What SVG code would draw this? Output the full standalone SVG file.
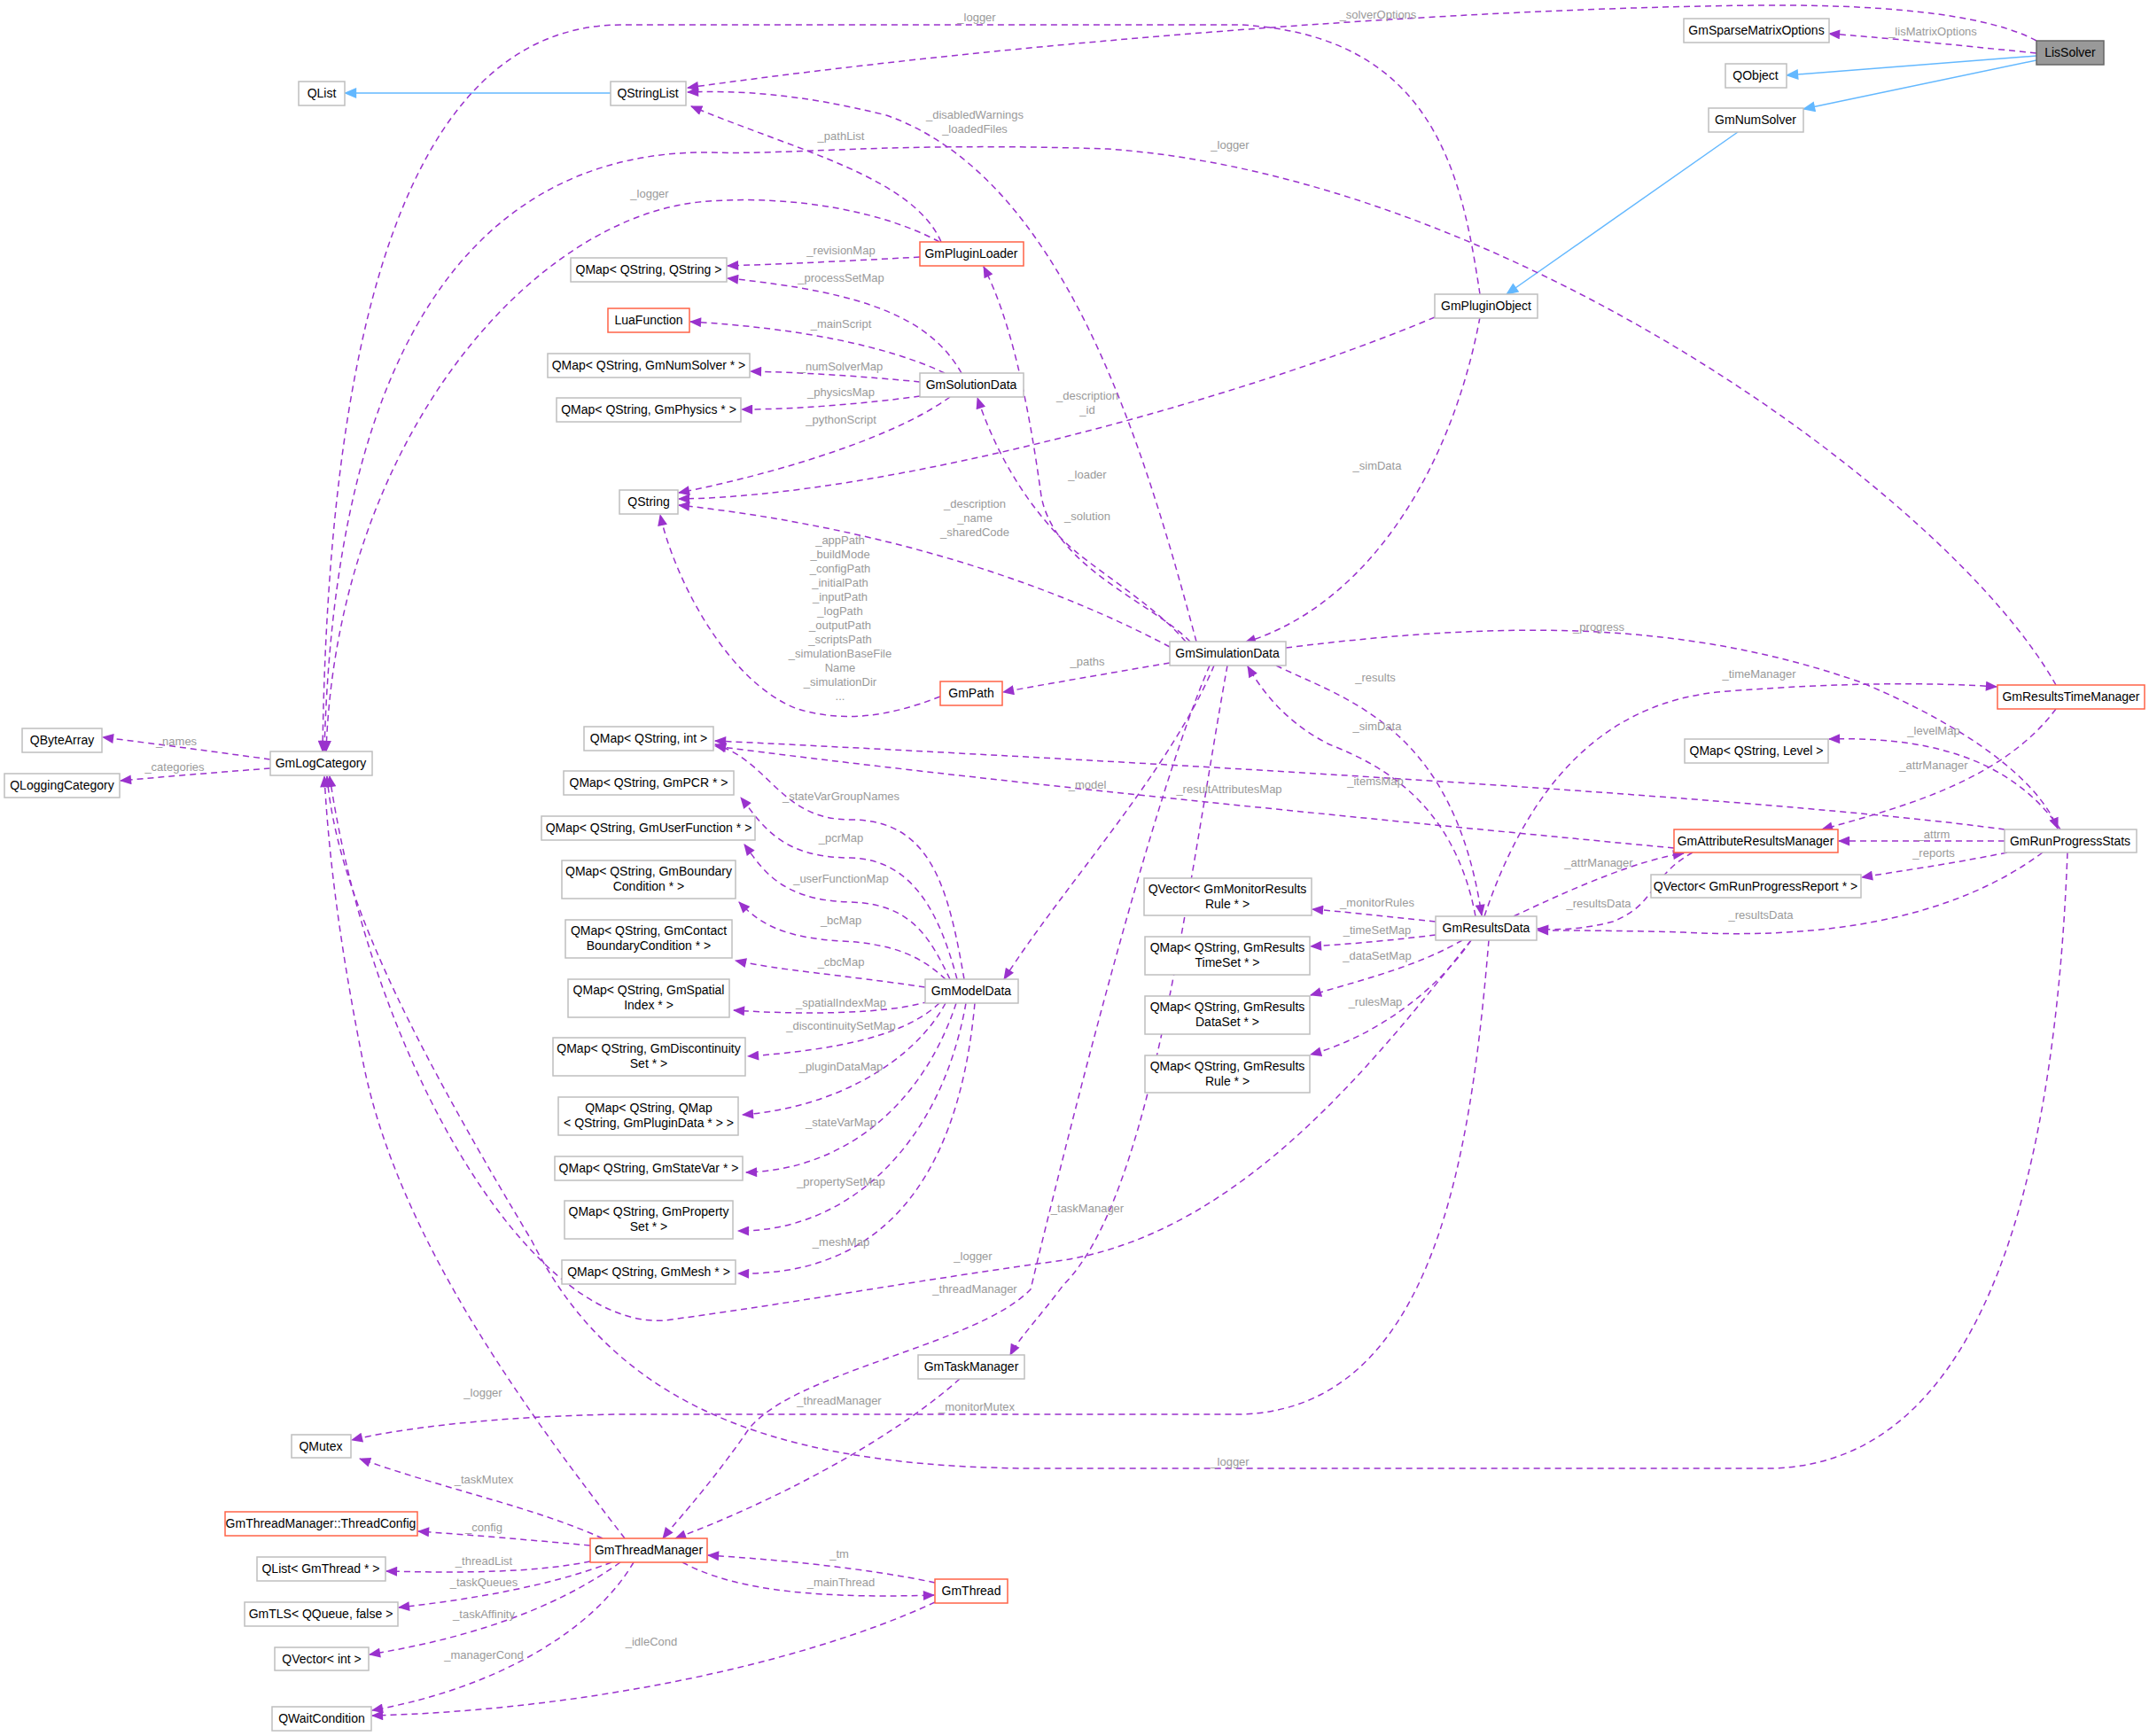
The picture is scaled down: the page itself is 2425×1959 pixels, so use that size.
<svg xmlns="http://www.w3.org/2000/svg" width="2425" height="1959" viewBox="0 0 2425 1959">
<style>
.n rect{fill:#fff;stroke:#bfbfbf;stroke-width:1.5}
.n.o rect{stroke:#ff6347}
.n.g rect{fill:#999;stroke:#666}
.n text{font-family:"Liberation Sans",Arial,sans-serif;font-size:14px;fill:#000;text-anchor:middle}
.e path{fill:none;stroke:#9a32cd;stroke-width:1.5;stroke-dasharray:7,5;marker-end:url(#a)}
.e path.i{stroke:#63b8ff;stroke-dasharray:none;marker-end:url(#b)}
.l text{font-family:"Liberation Sans",Arial,sans-serif;font-size:13px;fill:#9a9a9a;text-anchor:middle}
</style>
<defs>
<marker id="a" viewBox="0 0 12 10" refX="11" refY="5" markerWidth="14" markerHeight="11" markerUnits="userSpaceOnUse" orient="auto"><path d="M0,0 L12,5 L0,10 z" fill="#9a32cd"/></marker>
<marker id="b" viewBox="0 0 12 10" refX="11" refY="5" markerWidth="15" markerHeight="12" markerUnits="userSpaceOnUse" orient="auto"><path d="M0,0 L12,5 L0,10 z" fill="#63b8ff"/></marker>
</defs>
<rect width="2425" height="1959" fill="#fff"/>
<g class="e" id="connectors">
<path class="i" d="M2298,63 L2016,85"/>
<path class="i" d="M2298,68 L2035,123"/>
<path class="i" d="M1961,149 L1700,332"/>
<path class="i" d="M689,105 L389,105"/>
<path d="M2298,60 C2200,50 2120,42 2064,38"/>
<path d="M2298,46 C2250,20 2150,5 1990,6 C1700,8 1200,40 776,99"/>
<path d="M1670,332 C1650,200 1620,40 1400,28 L700,28 C450,30 370,400 364,848"/>
<path d="M2320,773 C2200,560 1700,200 1250,168 C1000,160 900,175 800,172 C600,170 380,300 366,848"/>
<path d="M1060,273 C1000,240 900,220 800,227 C600,240 380,500 368,848"/>
<path d="M1062,273 C1030,200 900,170 780,120"/>
<path d="M1350,724 C1290,500 1200,200 1000,130 C900,105 830,102 776,104"/>
<path d="M1343,724 C1300,680 1190,640 1175,560 C1160,450 1140,360 1110,301"/>
<path d="M1038,290 C950,295 880,298 821,300"/>
<path d="M1085,421 C1050,360 980,330 821,314"/>
<path d="M1066,421 C1000,390 900,370 779,363"/>
<path d="M1038,431 C980,425 900,420 847,419"/>
<path d="M1038,447 C980,455 900,462 837,462"/>
<path d="M1072,448 C1000,500 850,540 766,556"/>
<path d="M1619,358 C1400,450 1000,560 766,563"/>
<path d="M1320,730 C1150,640 950,590 766,570"/>
<path d="M1338,724 C1300,680 1230,640 1200,610 C1150,560 1120,500 1103,449"/>
<path d="M1061,786 C1000,810 950,815 900,800 C820,770 760,650 745,581"/>
<path d="M1320,748 C1250,760 1180,772 1132,781"/>
<path d="M1670,358 C1640,520 1550,680 1405,725"/>
<path d="M1370,751 C1320,870 1200,1000 1133,1105"/>
<path d="M1660,1061 C1550,1200 1400,1390 1200,1422 C1000,1450 900,1470 750,1490 C600,1500 420,1200 372,876"/>
<path d="M705,1736 C600,1600 450,1400 410,1200 C380,1050 370,950 366,876"/>
<path d="M2333,962 C2320,1300 2250,1650 2000,1657 L1200,1657 C900,1660 700,1600 600,1400 C450,1150 380,1000 369,876"/>
<path d="M1680,1061 C1660,1300 1620,1590 1400,1596 L700,1596 C560,1598 450,1612 397,1625"/>
<path d="M1385,751 C1340,1000 1300,1350 1200,1450 C1170,1490 1150,1510 1140,1529"/>
<path d="M1365,751 C1300,900 1200,1300 1163,1455 C1100,1520 880,1550 840,1620 C790,1690 760,1720 748,1736"/>
<path d="M1083,1556 C1000,1630 860,1700 762,1736"/>
<path d="M680,1736 C600,1700 500,1680 406,1646"/>
<path d="M666,1744 C600,1738 530,1732 472,1728"/>
<path d="M666,1762 C600,1775 520,1775 436,1773"/>
<path d="M690,1763 C620,1790 530,1805 450,1814"/>
<path d="M700,1763 C620,1820 520,1850 417,1867"/>
<path d="M715,1763 C670,1840 560,1905 420,1930"/>
<path d="M1055,1808 C900,1880 650,1930 420,1936"/>
<path d="M1055,1786 C980,1770 880,1760 799,1755"/>
<path d="M770,1763 C820,1790 900,1805 1054,1800"/>
<path d="M305,857 C240,848 180,840 116,832"/>
<path d="M305,867 C240,872 190,876 136,881"/>
<path d="M1088,1105 C1070,1000 1050,925 960,925 C880,925 870,860 807,840"/>
<path d="M1889,957 C1500,920 1100,880 807,842"/>
<path d="M2262,936 C2000,900 1300,860 807,836"/>
<path d="M1080,1105 C1060,1030 1030,970 960,968 C880,968 860,930 836,900"/>
<path d="M1072,1105 C1050,1060 1030,1020 960,1018 C880,1016 860,980 840,953"/>
<path d="M1067,1105 C1040,1080 1010,1065 950,1062 C880,1058 855,1040 834,1018"/>
<path d="M1044,1114 C950,1100 880,1095 830,1084"/>
<path d="M1048,1130 C1000,1145 900,1145 828,1140"/>
<path d="M1060,1132 C1020,1170 940,1185 844,1192"/>
<path d="M1067,1132 C1030,1200 940,1250 838,1258"/>
<path d="M1079,1132 C1040,1250 950,1320 842,1323"/>
<path d="M1090,1132 C1060,1300 950,1390 833,1389"/>
<path d="M1100,1132 C1080,1350 980,1440 833,1437"/>
<path d="M1440,751 C1520,790 1640,820 1672,1033"/>
<path d="M1665,1034 C1640,900 1550,860 1500,840 C1460,820 1430,790 1408,752"/>
<path d="M1451,731 C1700,700 1900,700 2100,770 C2220,820 2300,880 2322,935"/>
<path d="M1675,1034 C1720,900 1800,790 1950,780 C2080,770 2180,770 2253,775"/>
<path d="M2325,936 C2280,870 2200,830 2064,834"/>
<path d="M2320,800 C2260,880 2150,910 2056,936"/>
<path d="M2262,949 L2075,949"/>
<path d="M2265,962 C2200,975 2150,982 2101,990"/>
<path d="M2305,962 C2200,1040 2050,1060 1900,1052 C1820,1050 1780,1050 1735,1050"/>
<path d="M1910,962 C1860,990 1870,1020 1820,1040 C1790,1048 1760,1050 1735,1048"/>
<path d="M1708,1034 C1780,1000 1850,970 1900,963"/>
<path d="M1620,1040 C1570,1035 1530,1030 1481,1026"/>
<path d="M1620,1055 C1580,1060 1530,1065 1479,1068"/>
<path d="M1650,1061 C1600,1090 1540,1105 1479,1123"/>
<path d="M1660,1061 C1620,1120 1550,1170 1479,1190"/>
</g>
<g class="l" id="labels">
<text x="2181" y="40">_lisMatrixOptions</text>
<text x="1555" y="21">_solverOptions</text>
<text x="1102" y="24">_logger</text>
<text x="1388" y="168">_logger</text>
<text x="733" y="223">_logger</text>
<text x="949" y="158">_pathList</text>
<text x="1100" y="134">_disabledWarnings</text>
<text x="1100" y="150">_loadedFiles</text>
<text x="1227" y="540">_loader</text>
<text x="949" y="287">_revisionMap</text>
<text x="949" y="318">_processSetMap</text>
<text x="949" y="370">_mainScript</text>
<text x="949" y="418">_numSolverMap</text>
<text x="949" y="447">_physicsMap</text>
<text x="949" y="478">_pythonScript</text>
<text x="1227" y="451">_description</text>
<text x="1227" y="467">_id</text>
<text x="1100" y="573">_description</text>
<text x="1100" y="589">_name</text>
<text x="1100" y="605">_sharedCode</text>
<text x="1227" y="587">_solution</text>
<text x="948" y="614">_appPath</text>
<text x="948" y="630">_buildMode</text>
<text x="948" y="646">_configPath</text>
<text x="948" y="662">_initialPath</text>
<text x="948" y="678">_inputPath</text>
<text x="948" y="694">_logPath</text>
<text x="948" y="710">_outputPath</text>
<text x="948" y="726">_scriptsPath</text>
<text x="948" y="742">_simulationBaseFile</text>
<text x="948" y="758">Name</text>
<text x="948" y="774">_simulationDir</text>
<text x="948" y="790">...</text>
<text x="1227" y="751">_paths</text>
<text x="1554" y="530">_simData</text>
<text x="1227" y="890">_model</text>
<text x="1098" y="1422">_logger</text>
<text x="545" y="1576">_logger</text>
<text x="1388" y="1654">_logger</text>
<text x="1102" y="1592">_monitorMutex</text>
<text x="1227" y="1368">_taskManager</text>
<text x="1100" y="1459">_threadManager</text>
<text x="947" y="1585">_threadManager</text>
<text x="546" y="1674">_taskMutex</text>
<text x="546" y="1728">_config</text>
<text x="546" y="1766">_threadList</text>
<text x="546" y="1790">_taskQueues</text>
<text x="546" y="1826">_taskAffinity</text>
<text x="546" y="1872">_managerCond</text>
<text x="735" y="1857">_idleCond</text>
<text x="947" y="1758">_tm</text>
<text x="949" y="1790">_mainThread</text>
<text x="199" y="841">_names</text>
<text x="197" y="870">_categories</text>
<text x="949" y="903">_stateVarGroupNames</text>
<text x="1387" y="895">_resultAttributesMap</text>
<text x="1552" y="886">_itemsMap</text>
<text x="949" y="950">_pcrMap</text>
<text x="949" y="996">_userFunctionMap</text>
<text x="949" y="1043">_bcMap</text>
<text x="949" y="1090">_cbcMap</text>
<text x="949" y="1136">_spatialIndexMap</text>
<text x="949" y="1162">_discontinuitySetMap</text>
<text x="949" y="1208">_pluginDataMap</text>
<text x="949" y="1271">_stateVarMap</text>
<text x="949" y="1338">_propertySetMap</text>
<text x="949" y="1406">_meshMap</text>
<text x="1552" y="769">_results</text>
<text x="1554" y="824">_simData</text>
<text x="1804" y="712">_progress</text>
<text x="1985" y="765">_timeManager</text>
<text x="2182" y="829">_levelMap</text>
<text x="2182" y="868">_attrManager</text>
<text x="2182" y="946">_attrm</text>
<text x="2182" y="967">_reports</text>
<text x="1987" y="1037">_resultsData</text>
<text x="1804" y="1024">_resultsData</text>
<text x="1804" y="978">_attrManager</text>
<text x="1554" y="1023">_monitorRules</text>
<text x="1554" y="1054">_timeSetMap</text>
<text x="1554" y="1083">_dataSetMap</text>
<text x="1552" y="1135">_rulesMap</text>
</g>
<g id="LisSolver" class="n g"><rect x="2298" y="46" width="76" height="27"/><text x="2336" y="64">LisSolver</text></g>
<g id="GmSparseMatrixOptions" class="n"><rect x="1900" y="21" width="164" height="27"/><text x="1982" y="39">GmSparseMatrixOptions</text></g>
<g id="QObject" class="n"><rect x="1947" y="72" width="69" height="27"/><text x="1981" y="90">QObject</text></g>
<g id="GmNumSolver" class="n"><rect x="1928" y="122" width="107" height="27"/><text x="1981" y="140">GmNumSolver</text></g>
<g id="GmPluginObject" class="n"><rect x="1619" y="332" width="116" height="27"/><text x="1677" y="350">GmPluginObject</text></g>
<g id="QList" class="n"><rect x="337" y="92" width="52" height="27"/><text x="363" y="110">QList</text></g>
<g id="QStringList" class="n"><rect x="689" y="92" width="85" height="27"/><text x="731" y="110">QStringList</text></g>
<g id="GmPluginLoader" class="n o"><rect x="1038" y="273" width="117" height="27"/><text x="1096" y="291">GmPluginLoader</text></g>
<g id="QMapStrStr" class="n"><rect x="644" y="291" width="176" height="27"/><text x="732" y="309">QMap&lt; QString, QString &gt;</text></g>
<g id="LuaFunction" class="n o"><rect x="686" y="348" width="92" height="27"/><text x="732" y="366">LuaFunction</text></g>
<g id="QMapNumSolver" class="n"><rect x="618" y="399" width="228" height="27"/><text x="732" y="417">QMap&lt; QString, GmNumSolver * &gt;</text></g>
<g id="QMapPhysics" class="n"><rect x="628" y="449" width="208" height="27"/><text x="732" y="467">QMap&lt; QString, GmPhysics * &gt;</text></g>
<g id="GmSolutionData" class="n"><rect x="1038" y="421" width="117" height="27"/><text x="1096" y="439">GmSolutionData</text></g>
<g id="QString" class="n"><rect x="699" y="553" width="66" height="27"/><text x="732" y="571">QString</text></g>
<g id="QByteArray" class="n"><rect x="25" y="822" width="90" height="27"/><text x="70" y="840">QByteArray</text></g>
<g id="QLoggingCategory" class="n"><rect x="5" y="873" width="130" height="27"/><text x="70" y="891">QLoggingCategory</text></g>
<g id="GmLogCategory" class="n"><rect x="305" y="848" width="115" height="27"/><text x="362" y="866">GmLogCategory</text></g>
<g id="GmPath" class="n o"><rect x="1061" y="769" width="70" height="27"/><text x="1096" y="787">GmPath</text></g>
<g id="QMapInt" class="n"><rect x="659" y="820" width="146" height="27"/><text x="732" y="838">QMap&lt; QString, int &gt;</text></g>
<g id="QMapPCR" class="n"><rect x="636" y="870" width="192" height="27"/><text x="732" y="888">QMap&lt; QString, GmPCR * &gt;</text></g>
<g id="QMapUserFunction" class="n"><rect x="611" y="921" width="241" height="27"/><text x="732" y="939">QMap&lt; QString, GmUserFunction * &gt;</text></g>
<g id="QMapBC" class="n"><rect x="634" y="971" width="196" height="43"/><text x="732" y="988">QMap&lt; QString, GmBoundary</text><text x="732" y="1005">Condition * &gt;</text></g>
<g id="QMapContact" class="n"><rect x="638" y="1038" width="188" height="43"/><text x="732" y="1055">QMap&lt; QString, GmContact</text><text x="732" y="1072">BoundaryCondition * &gt;</text></g>
<g id="QMapSpatial" class="n"><rect x="641" y="1105" width="182" height="43"/><text x="732" y="1122">QMap&lt; QString, GmSpatial</text><text x="732" y="1139">Index * &gt;</text></g>
<g id="QMapDiscontinuity" class="n"><rect x="624" y="1171" width="217" height="43"/><text x="732" y="1188">QMap&lt; QString, GmDiscontinuity</text><text x="732" y="1205">Set * &gt;</text></g>
<g id="QMapPluginData" class="n"><rect x="630" y="1238" width="203" height="43"/><text x="732" y="1255">QMap&lt; QString, QMap</text><text x="732" y="1272">&lt; QString, GmPluginData * &gt; &gt;</text></g>
<g id="QMapStateVar" class="n"><rect x="626" y="1305" width="212" height="27"/><text x="732" y="1323">QMap&lt; QString, GmStateVar * &gt;</text></g>
<g id="QMapPropertySet" class="n"><rect x="637" y="1355" width="190" height="43"/><text x="732" y="1372">QMap&lt; QString, GmProperty</text><text x="732" y="1389">Set * &gt;</text></g>
<g id="QMapMesh" class="n"><rect x="634" y="1422" width="196" height="27"/><text x="732" y="1440">QMap&lt; QString, GmMesh * &gt;</text></g>
<g id="GmModelData" class="n"><rect x="1044" y="1105" width="105" height="27"/><text x="1096" y="1123">GmModelData</text></g>
<g id="GmTaskManager" class="n"><rect x="1036" y="1529" width="120" height="27"/><text x="1096" y="1547">GmTaskManager</text></g>
<g id="QMutex" class="n"><rect x="329" y="1619" width="67" height="26"/><text x="362" y="1637">QMutex</text></g>
<g id="ThreadConfig" class="n o"><rect x="254" y="1706" width="217" height="27"/><text x="362" y="1724">GmThreadManager::ThreadConfig</text></g>
<g id="GmThreadManager" class="n o"><rect x="666" y="1736" width="132" height="27"/><text x="732" y="1754">GmThreadManager</text></g>
<g id="QListGmThread" class="n"><rect x="290" y="1757" width="145" height="27"/><text x="362" y="1775">QList&lt; GmThread * &gt;</text></g>
<g id="GmTLS" class="n"><rect x="276" y="1808" width="173" height="27"/><text x="362" y="1826">GmTLS&lt; QQueue, false &gt;</text></g>
<g id="QVectorInt" class="n"><rect x="310" y="1859" width="106" height="26"/><text x="363" y="1877">QVector&lt; int &gt;</text></g>
<g id="QWaitCondition" class="n"><rect x="307" y="1926" width="112" height="27"/><text x="363" y="1944">QWaitCondition</text></g>
<g id="GmThread" class="n o"><rect x="1055" y="1782" width="82" height="27"/><text x="1096" y="1800">GmThread</text></g>
<g id="GmSimulationData" class="n"><rect x="1320" y="724" width="131" height="27"/><text x="1385" y="742">GmSimulationData</text></g>
<g id="GmResultsTimeManager" class="n o"><rect x="2254" y="773" width="166" height="27"/><text x="2337" y="791">GmResultsTimeManager</text></g>
<g id="QMapLevel" class="n"><rect x="1901" y="834" width="162" height="27"/><text x="1982" y="852">QMap&lt; QString, Level &gt;</text></g>
<g id="GmAttributeResultsManager" class="n o"><rect x="1889" y="936" width="185" height="26"/><text x="1981" y="954">GmAttributeResultsManager</text></g>
<g id="GmRunProgressStats" class="n"><rect x="2262" y="936" width="149" height="26"/><text x="2336" y="954">GmRunProgressStats</text></g>
<g id="QVectorReport" class="n"><rect x="1863" y="987" width="237" height="26"/><text x="1981" y="1005">QVector&lt; GmRunProgressReport * &gt;</text></g>
<g id="GmResultsData" class="n"><rect x="1620" y="1034" width="114" height="27"/><text x="1677" y="1052">GmResultsData</text></g>
<g id="QVectorMonitor" class="n"><rect x="1291" y="991" width="189" height="42"/><text x="1385" y="1008">QVector&lt; GmMonitorResults</text><text x="1385" y="1025">Rule * &gt;</text></g>
<g id="QMapTimeSet" class="n"><rect x="1292" y="1057" width="186" height="43"/><text x="1385" y="1074">QMap&lt; QString, GmResults</text><text x="1385" y="1091">TimeSet * &gt;</text></g>
<g id="QMapDataSet" class="n"><rect x="1292" y="1124" width="186" height="43"/><text x="1385" y="1141">QMap&lt; QString, GmResults</text><text x="1385" y="1158">DataSet * &gt;</text></g>
<g id="QMapRule" class="n"><rect x="1292" y="1191" width="186" height="42"/><text x="1385" y="1208">QMap&lt; QString, GmResults</text><text x="1385" y="1225">Rule * &gt;</text></g>
</svg>
